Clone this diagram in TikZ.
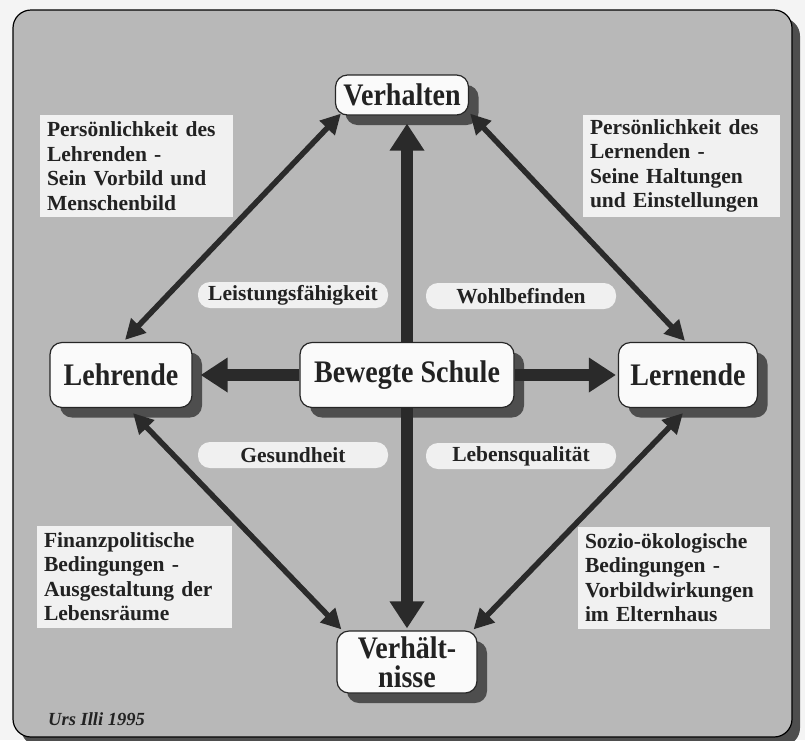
\documentclass[tikz,border=0pt]{standalone}
\usepackage{fontspec}
\setmainfont{Liberation Serif}
\usetikzlibrary{arrows.meta,shadows}
\definecolor{outerc}{HTML}{F4F4F4}
\definecolor{bggray}{HTML}{B8B8B8}
\definecolor{shgray}{HTML}{4E4E4E}
\definecolor{nodefill}{HTML}{FAFAFA}
\definecolor{boxfill}{HTML}{F1F1F1}
\definecolor{pillfill}{HTML}{F0F0F0}
\definecolor{arrowc}{HTML}{2A2A2A}
\definecolor{textc}{HTML}{222222}
\newcommand\tallt[1]{\scalebox{1}[1.12]{#1}}
\begin{document}
\begin{tikzpicture}[x=1pt,y=-1pt,
  mainnode/.style={draw=black!85, line width=1.2pt, fill=nodefill, rounded corners=12pt,
    inner sep=0pt, text=textc, align=center,
    font=\fontsize{28}{29}\selectfont\bfseries,
    drop shadow={shadow xshift=10pt, shadow yshift=-10pt, fill=shgray, opacity=1}},
  tb/.style={fill=boxfill, inner xsep=7pt, inner ysep=0pt, minimum height=102pt,
    align=left, text=textc, font=\fontsize{21.5}{24.5}\selectfont\bfseries},
  pill/.style={fill=pillfill, rounded corners=12pt, minimum width=190pt, minimum height=26pt,
    inner sep=0pt, text=textc, font=\fontsize{21.5}{24}\selectfont\bfseries},
  thickarr/.style={draw=arrowc, line width=12pt, -{Triangle[length=27pt,width=33pt]}},
  thinarr/.style={draw=arrowc, line width=5.5pt,
    {Triangle[length=20pt,width=20pt]}-{Triangle[length=20pt,width=20pt]}}
]
\useasboundingbox (0,0) rectangle (805,740);
\fill[outerc] (0,0) rectangle (805,740);
% frame with shadow
\fill[shgray, rounded corners=18pt] (21,18) rectangle (800,746);
\draw[fill=bggray, rounded corners=18pt, line width=1.2pt] (13,10) rectangle (792,737);

% main nodes
\node[mainnode, minimum width=133pt, minimum height=40pt] (vh) at (402,95) {\tallt{Verhalten}};
\node[mainnode, minimum width=214pt, minimum height=65pt] (bs) at (407,375) {\tallt{Bewegte Schule}};
\node[mainnode, minimum width=142pt, minimum height=65pt] (lehr) at (121,375) {\tallt{Lehrende}};
\node[mainnode, minimum width=139pt, minimum height=65pt] (lern) at (688,375) {\tallt{Lernende}};
\node[mainnode, minimum width=140pt, minimum height=62pt] (vn) at (407,662) {\tallt{Verhält-}\\\tallt{nisse}};

% text boxes
\node[tb, text width=179pt] (tl) at (136.5,166) {Persönlichkeit des\\Lehrenden -\\Sein Vorbild und\\Menschenbild};
\node[tb, text width=183pt] (tr) at (681.5,166) {Persönlichkeit des\\Lernenden -\\Seine Haltungen\\und Einstellungen};
\node[tb, text width=181pt] (bl) at (134.5,576.5) {Finanzpolitische\\Bedingungen -\\Ausgestaltung der\\Lebensräume};
\node[tb, text width=178pt] (br) at (674,577.5) {Sozio-ökologische\\Bedingungen -\\Vorbildwirkungen\\im Elternhaus};

% pills
\node[pill] (p1) at (293,295) {Leistungsfähigkeit};
\node[pill] (p2) at (521,296) {Wohlbefinden};
\node[pill] (p3) at (293,455) {Gesundheit};
\node[pill] (p4) at (521,456) {Lebensqualität};

% credit
\node[anchor=base west, inner sep=0pt, text=textc, font=\fontsize{18.5}{20}\selectfont\bfseries\itshape] (credit) at (48,725) {Urs Illi 1995};

% thick arrows
\draw[thickarr, shorten >=8pt] (bs.north) -- (bs.north |- vh.south);
\draw[thickarr, shorten >=2pt] (bs.south) -- (bs.south |- vn.north);
\draw[thickarr, shorten >=8pt] (bs.west) -- (lehr.east);
\draw[thickarr, shorten >=2pt] (bs.east) -- (lern.west);

% thin double arrows
\draw[thinarr] ([xshift=4pt,yshift=2pt]lehr.north) -- ([xshift=6pt,yshift=2pt]vh.south west);
\draw[thinarr] ([xshift=1pt,yshift=2pt]vh.south east) -- ([xshift=-3pt,yshift=1pt]lern.north);
\draw[thinarr] ([xshift=12pt,yshift=-5pt]lehr.south) -- ([xshift=5pt,yshift=1pt]vn.north west);
\draw[thinarr] ([xshift=-5pt,yshift=-5pt]lern.south) -- ([xshift=-4pt,yshift=1pt]vn.north east);
\end{tikzpicture}
\end{document}
